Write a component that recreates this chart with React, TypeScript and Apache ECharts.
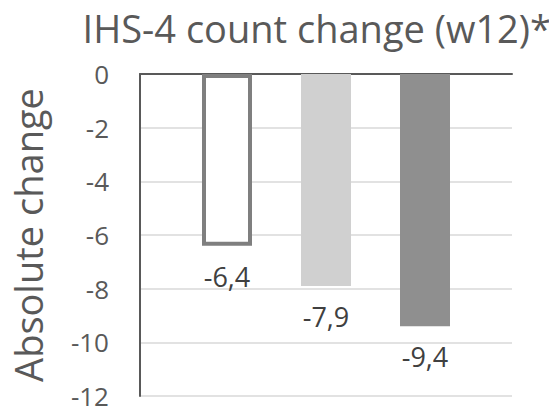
import React, { useEffect, useRef } from "react";
import * as echarts from "echarts";

const categories = ["IHS-4"];
const seriesNames = ["Group A", "Group B", "Group C"];
const seriesValues = [-6.4, -7.9, -9.4];
const yTicks = [0, -2, -4, -6, -8, -10, -12];
const title = "IHS-4 count change (w12)*";
const yAxisName = "Absolute change";

const FONT = "'Open Sans', 'Noto Sans', sans-serif";

export default function App() {
  const ref = useRef<HTMLDivElement>(null);
  useEffect(() => {
    if (!ref.current) return;
    const chart = echarts.init(ref.current, undefined, { renderer: "svg" });
    const styles = [
      { color: "#ffffff", borderColor: "#7f7f7f", borderWidth: 4 },
      { color: "#d0d0d0", borderWidth: 0 },
      { color: "#8f8f8f", borderWidth: 0 },
    ];
    chart.setOption({
      animation: false,
      title: {
        text: title,
        left: 546,
        textAlign: "right",
        top: 4,
        textStyle: { fontFamily: FONT, fontSize: 38, fontWeight: "normal", color: "#595959" },
      },
      grid: { left: 140, right: 37, top: 74, bottom: 11, containLabel: false },
      xAxis: {
        type: "category",
        data: categories,
        axisLine: { show: true, lineStyle: { color: "#595959", width: 2 } },
        axisTick: { show: false },
        axisLabel: { show: false },
      },
      yAxis: {
        type: "value",
        min: Math.min(...yTicks),
        max: Math.max(...yTicks),
        interval: 2,
        name: yAxisName,
        nameLocation: "middle",
        nameGap: 93,
        nameRotate: 90,
        nameTextStyle: { fontFamily: FONT, fontSize: 38, color: "#595959" },
        axisLine: { show: true, lineStyle: { color: "#595959", width: 2 } },
        axisTick: { show: false },
        splitLine: { lineStyle: { color: "#d9d9d9", width: 1.5 } },
        axisLabel: {
          fontFamily: FONT,
          fontSize: 26,
          color: "#595959",
          margin: 31,
        },
      },
      series: seriesValues.map((v, i) => ({
        type: "bar",
        name: seriesNames[i],
        data: [v],
        barWidth: 50,
        barGap: "98%",
        itemStyle: styles[i],
        label: {
          show: true,
          position: "bottom",
          distance: 17,
          fontFamily: FONT,
          fontSize: 27,
          color: "#404040",
          formatter: (p: any) => String(p.value).replace(".", ","),
        },
      })),
    });
    return () => chart.dispose();
  }, []);
  return <div ref={ref} style={{ width: 549, height: 409, position: "absolute", left: 0, top: 0 }} />;
}
